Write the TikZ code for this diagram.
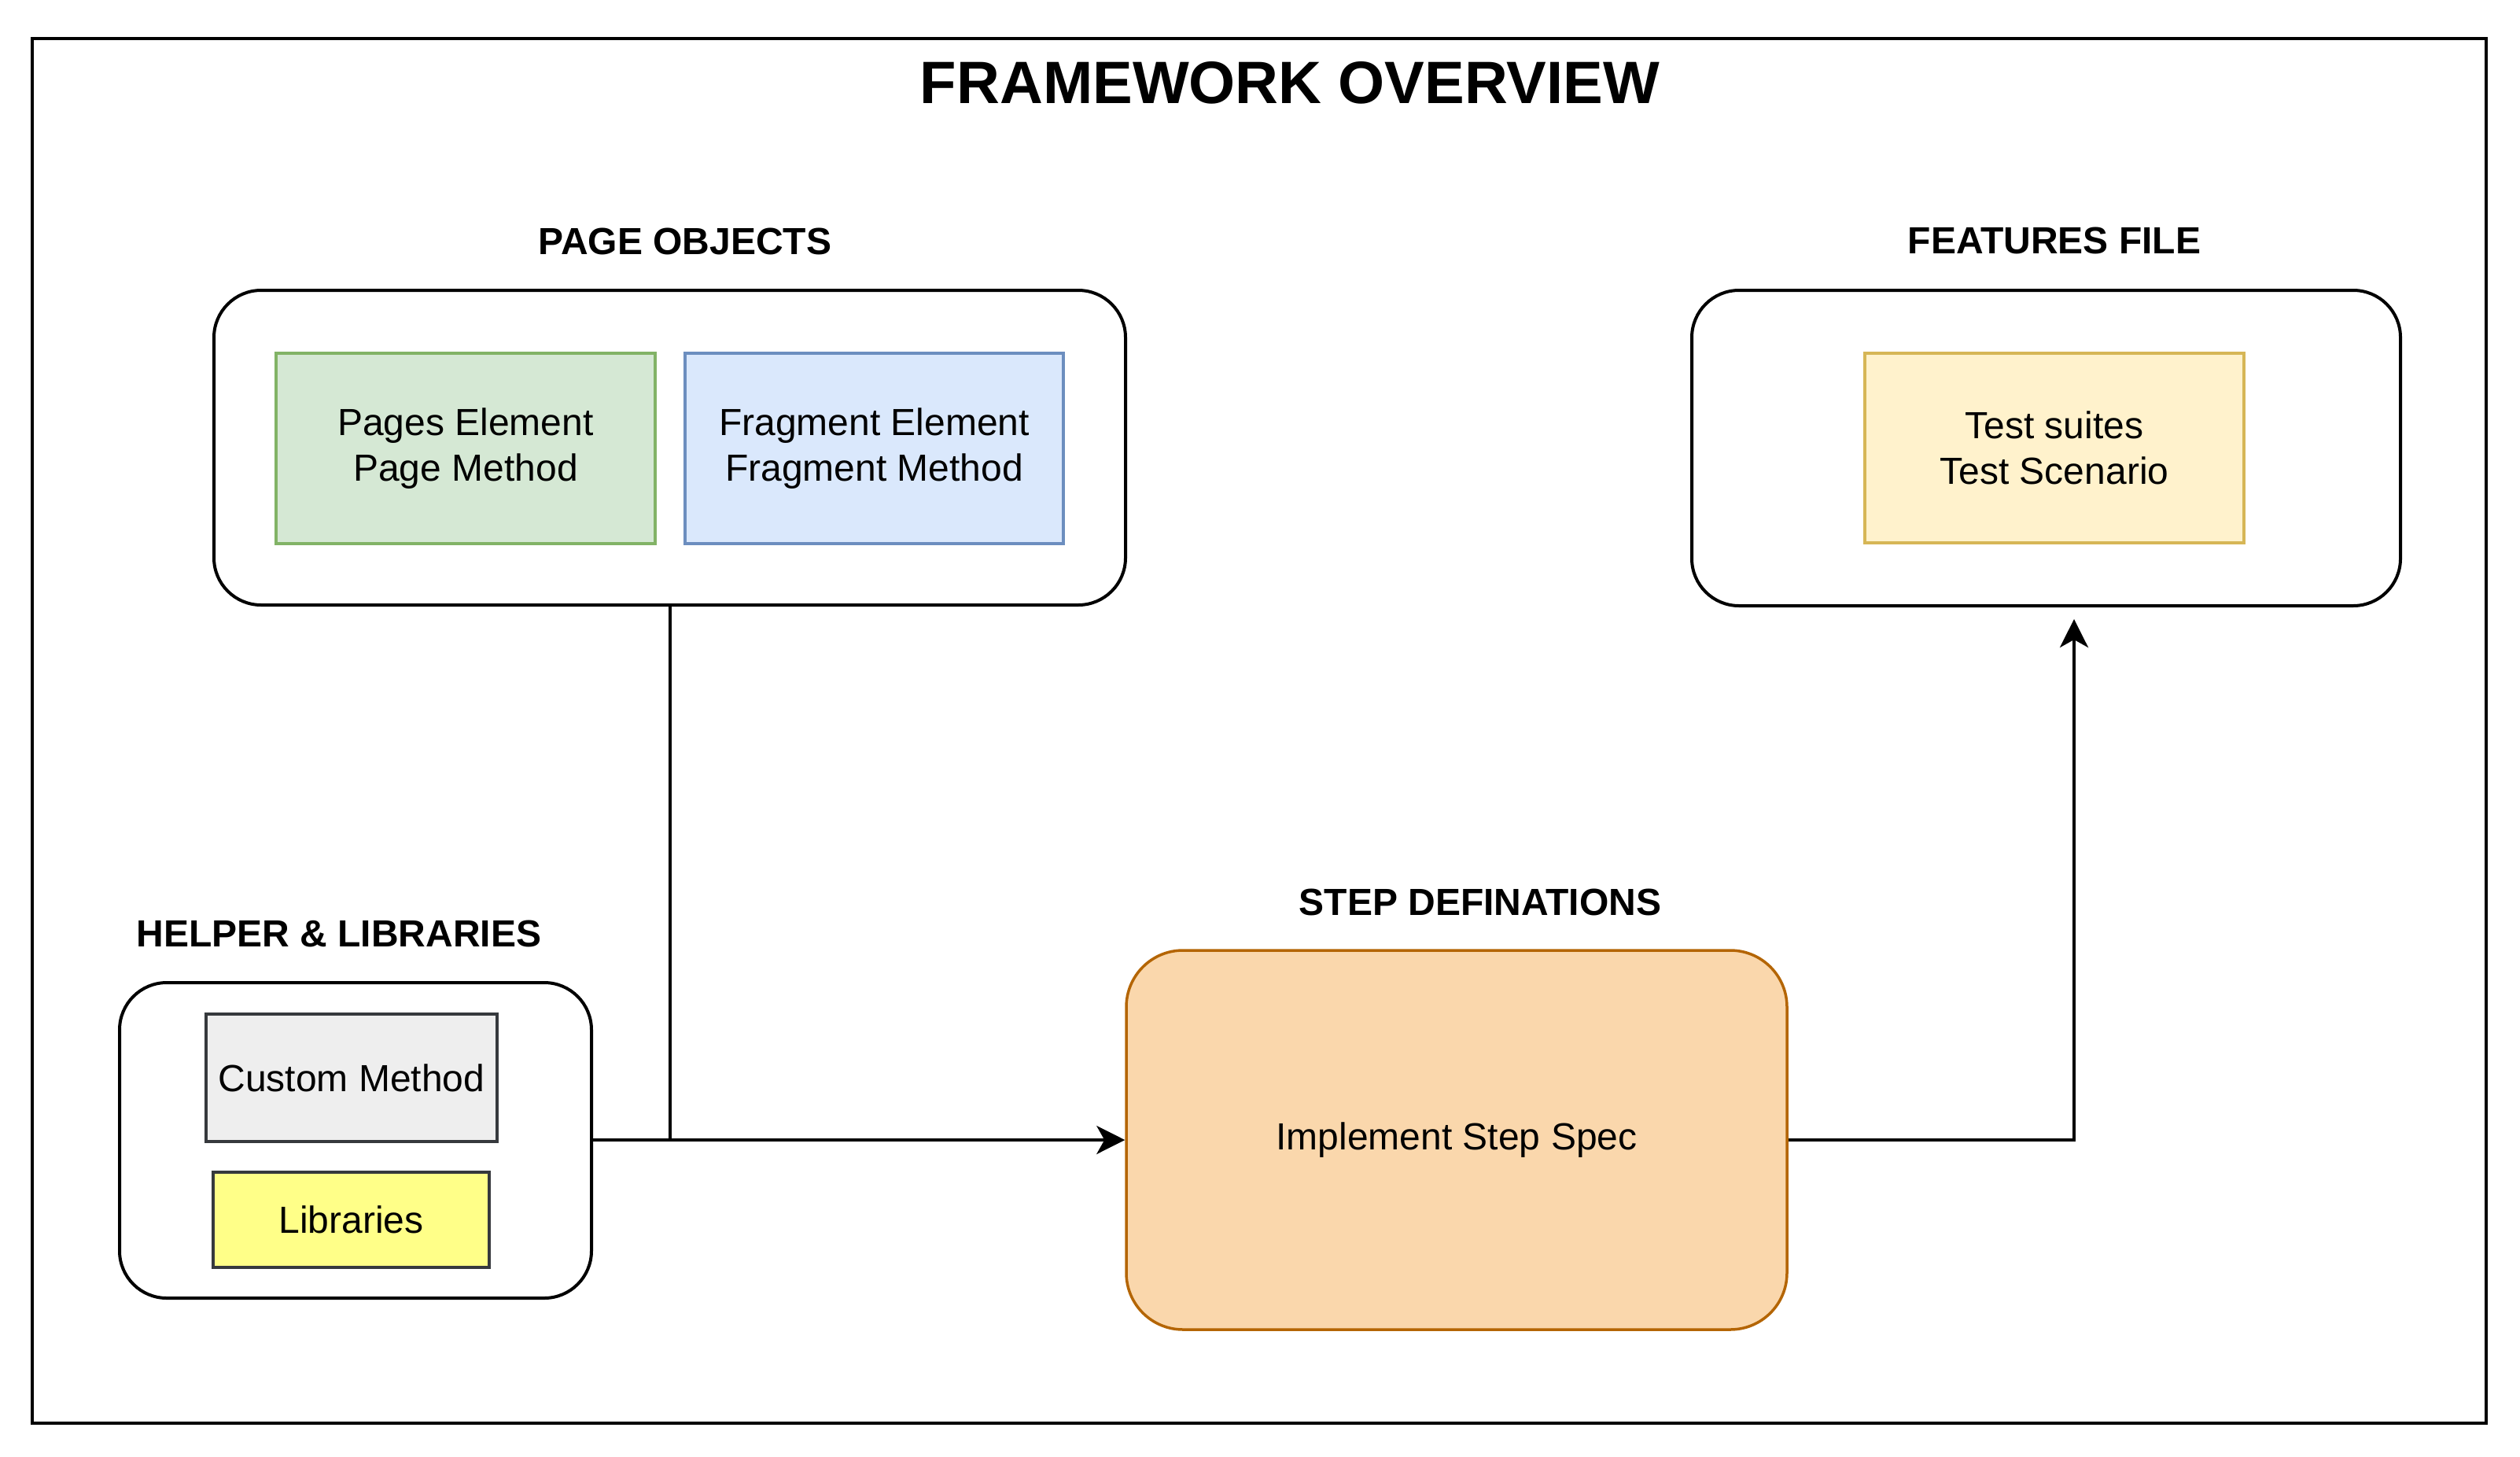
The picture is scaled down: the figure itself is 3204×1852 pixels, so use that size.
\documentclass[tikz,border=0pt]{standalone}
\usepackage{fontspec}
\setmainfont{Liberation Sans}
\usetikzlibrary{arrows.meta}
\definecolor{gfill}{HTML}{D5E8D4}\definecolor{gline}{HTML}{82B366}
\definecolor{bfill}{HTML}{DAE8FC}\definecolor{bline}{HTML}{6C8EBF}
\definecolor{yfill}{HTML}{FFF2CC}\definecolor{yline}{HTML}{D6B656}
\definecolor{cfill}{HTML}{EEEEEE}\definecolor{cline}{HTML}{36393D}
\definecolor{lfill}{HTML}{FFFF88}
\definecolor{sfill}{HTML}{FAD7AC}\definecolor{sline}{HTML}{B46504}
\tikzset{
  body/.style={font=\fontsize{48}{58}\selectfont},
  heading/.style={font=\fontsize{48}{58}\selectfont\bfseries, inner sep=0pt},
  group/.style={draw=black, line width=4pt, rounded corners=60pt, inner sep=0pt, fill=white},
  item/.style={draw, line width=3.5pt, inner sep=0pt, align=center, body},
  conn/.style={draw=black, line width=4pt},
  tip/.style={-{Stealth[length=36pt,width=36pt,inset=10pt]}}
}
\begin{document}
\begin{tikzpicture}[x=1pt,y=-1pt]
\useasboundingbox (0,0) rectangle (3204,1852);
\node[draw=black, line width=4.5pt, minimum width=3120pt, minimum height=1760pt, inner sep=0pt] (frame) at (1601,929) {};
\node[heading, font=\fontsize{76}{90}\selectfont\bfseries] (title) at (1640,105) {FRAMEWORK OVERVIEW};

% Page objects
\node[heading] (pohead) at (871,307) {PAGE OBJECTS};
\node[group, minimum width=1159pt, minimum height=400pt] (po) at (851.5,569) {};
\node[item, fill=gfill, draw=gline, minimum width=482pt, minimum height=242pt] (pages) at (592,570) {Pages Element\\Page Method};
\node[item, fill=bfill, draw=bline, minimum width=481pt, minimum height=242pt] (frag) at (1111.5,570) {Fragment Element\\Fragment Method};

% Features file
\node[heading] (fehead) at (2612,306) {FEATURES FILE};
\node[group, minimum width=901pt, minimum height=401pt] (fe) at (2601.5,569.5) {};
\node[item, fill=yfill, draw=yline, minimum width=482pt, minimum height=241pt] (tests) at (2612,569.5) {Test suites\\Test Scenario};

% Helper & libraries
\node[heading] (hehead) at (431,1187) {HELPER \& LIBRARIES};
\node[group, minimum width=600pt, minimum height=401pt] (helper) at (452,1449.5) {};
\node[item, fill=cfill, draw=cline, minimum width=370pt, minimum height=162pt] (custom) at (447,1370) {Custom Method};
\node[item, fill=lfill, draw=cline, minimum width=351pt, minimum height=121pt] (libs) at (446.5,1550.5) {Libraries};

% Step definitions
\node[heading] (sthead) at (1882,1147) {STEP DEFINATIONS};
\node[draw=sline, fill=sfill, line width=3.5pt, rounded corners=72pt, minimum width=840pt, minimum height=482pt, inner sep=0pt, body] (step) at (1852,1449) {Implement Step Spec};

% connectors
\coordinate (join) at (po.south |- step.west);
\coordinate (ftip) at (2637,787);
\draw[conn] (po.south) -- (join);
\draw[conn, tip] (helper.east |- step.west) -- (step.west);
\draw[conn, tip] (step.east) -| (ftip);
\end{tikzpicture}
\end{document}
